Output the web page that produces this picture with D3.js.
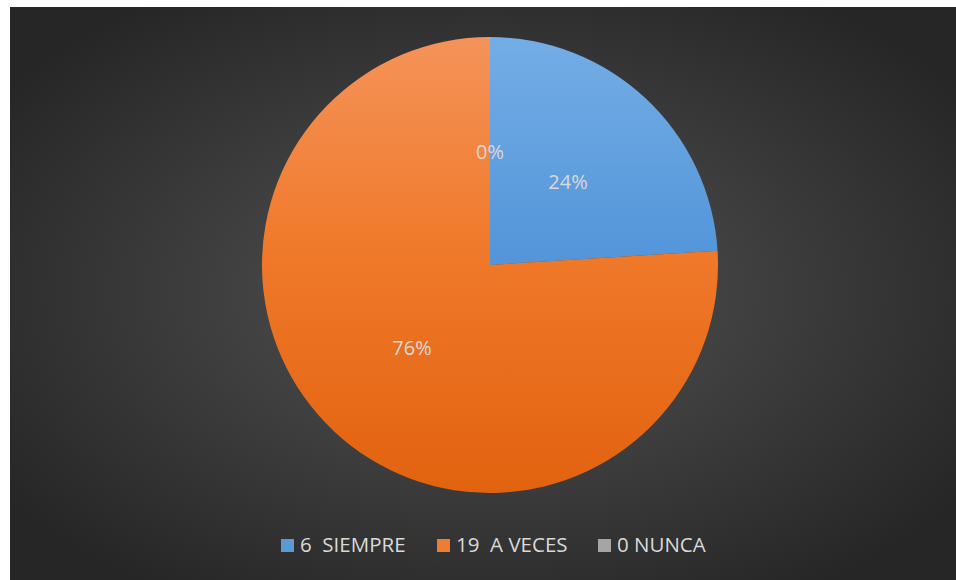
<!DOCTYPE html>
<html><head><meta charset="utf-8">
<script src="https://cdn.jsdelivr.net/npm/d3@7"></script>
<style>body{margin:0;background:#fff}svg{display:block}</style>
</head><body>
<svg id="c" width="956" height="580"></svg>
<script>
const categories = ["6  SIEMPRE", "19  A VECES", "0 NUNCA"];
const values = [6, 19, 0];
const labels = ["24%", "76%", "0%"];
const colorsTop = ["#74ade6", "#f5935a", "#b8b8b8"];
const colorsMid = ["#5597da", "#f07a2b", "#a5a5a5"];
const colorsBottom = ["#3a80c6", "#e2620f", "#9a9a9a"];
const legendColors = ["#5b9bd5", "#ed7d31", "#a5a5a5"];

const svg = d3.select("#c");
const W = 956, H = 580;
const defs = svg.append("defs");
const rg = defs.append("radialGradient").attr("id","bg").attr("cx","50%").attr("cy","50%").attr("r","62%");
rg.append("stop").attr("offset","0%").attr("stop-color","#545454");
rg.append("stop").attr("offset","100%").attr("stop-color","#262626");
svg.append("rect").attr("x",10).attr("y",7).attr("width",W-10).attr("height",H-7).attr("fill","url(#bg)");

const cx = 490, cy = 265, R = 228;
categories.forEach((c,i)=>{
  const lg = defs.append("linearGradient").attr("id","g"+i)
    .attr("gradientUnits","userSpaceOnUse").attr("x1",0).attr("y1",-R).attr("x2",0).attr("y2",R);
  lg.append("stop").attr("offset","0%").attr("stop-color",colorsTop[i]);
  lg.append("stop").attr("offset","45%").attr("stop-color",colorsMid[i]);
  lg.append("stop").attr("offset","100%").attr("stop-color",colorsBottom[i]);
});

const pie = d3.pie().sort(null).value(d=>d)(values);
const arc = d3.arc().innerRadius(0).outerRadius(R);
const g = svg.append("g").attr("transform",`translate(${cx},${cy})`);
const lgG = svg.append("g");
g.selectAll("path").data(pie).join("path")
  .attr("d",arc)
  .attr("fill",(d,i)=>`url(#g${i})`);

// labels
const labelArc = d3.arc().innerRadius(R*0.5).outerRadius(R*0.5);
const labPos = pie.map(d=>labelArc.centroid(d));
g.selectAll("text.lab").data(pie).join("text").attr("class","lab")
  .attr("x",(d,i)=> i===2 ? 0 : labPos[i][0])
  .attr("y",(d,i)=> i===2 ? -113+7 : labPos[i][1]+7)
  .attr("text-anchor","middle")
  .attr("font-family","'Open Sans', 'Liberation Sans', sans-serif")
  .attr("font-size",20)
  .attr("fill","#d9d9d9")
  .text((d,i)=>labels[i]);

// legend
const legX = [281, 437, 598];
categories.forEach((c,i)=>{
  lgG.append("rect").attr("x",legX[i]).attr("y",539).attr("width",13).attr("height",13).attr("fill",legendColors[i]);
  lgG.append("text").attr("x",legX[i]+19).attr("y",552)
    .attr("font-family","'Open Sans', 'Liberation Sans', sans-serif")
    .attr("font-size",20.5).attr("fill","#d9d9d9")
    .style("white-space","pre")
    .text(c);
});
</script>
</body></html>
